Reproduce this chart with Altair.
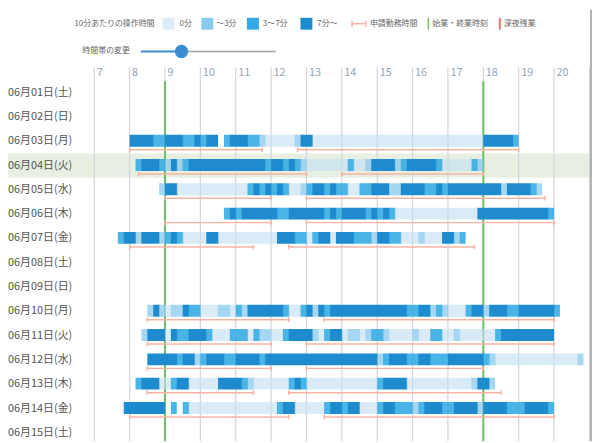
import altair as alt
import pandas as pd

FONT = "Noto Sans CJK JP"

DATES = ["06月01日(土)", "06月02日(日)", "06月03日(月)", "06月04日(火)", "06月05日(水)",
         "06月06日(木)", "06月07日(金)", "06月08日(土)", "06月09日(日)", "06月10日(月)",
         "06月11日(火)", "06月12日(水)", "06月13日(木)", "06月14日(金)", "06月15日(土)"]
HOURS = [7, 8, 9, 10, 11, 12, 13, 14, 15, 16, 17, 18, 19, 20, 21]
HIGHLIGHT_DATE = "06月04日(火)"
WORK_TIMES = [9, 18]

LEVEL_NAMES = ["0分", "～3分", "3～7分", "7分～"]
LEVEL_COLORS = ["#ddecf8", "#88c9ee", "#31a9e2", "#1f8bcf"]
CELL_COLORS = ["#c4dff4", "#88c9ee", "#31a9e2", "#1f8bcf"]
CELL_OPACITY = [0.62, 1.0, 1.0, 1.0]

# 10-minute cells per day: start time and operation level (-1 = no record)
START_0603 = "8:00"
LEVELS_0603 = [3, 3, 3, 3, 2, 2, 3, 3, 3, 2, 2, 3, 2, 3, 3, -1, 2, 3, 3, 3, 2, 2, 1,
               0, 0, 0, 0, 0, 1, 3, 3,
               0, 0, 0, 0, 0, 0, 0, 0, 0, 0, 0, 0, 0, 0, 0, 0, 0, 0, 0, 0, 0, 0, 0, 0, 0, 0, 0, 0, 0,
               3, 3, 3, 3, 3, 2]
START_0604 = "8:10"
LEVELS_0604 = [2, 3, 3, 3, 2, 1, 3, 1, 2, 3, 3, 3, 3, 3, 3, 3, 3, 3, 3, 3, 3, 3, 2, 3, 3, 2, 3, 2, 1,
               0, 0, 0, 0, 0, 0, 0, 2, 0, 0, 1, 3, 3, 3, 3, 1, 2, 3, 3, 3, 3, 3, 2,
               0, 0, 0, 0, 0, 2, 1]
START_0605 = "8:50"
LEVELS_0605 = [1, 3, 3, 0, 0, 0, 0, 0, 0, 0, 0, 0, 0, 0, 0, 2, 3, 2, 3, 2, 3, 2, 0, 0, 1, 2, 3, 3, 2,
               3, 2, 2, 0, 0, 2, 2, 3, 3, 3, 1, 1, 3, 3, 3, 3, 2, 2, 3, 2,
               3, 3, 3, 3, 3, 3, 3, 3, 3, 1, 3, 3, 3, 3, 2, 1]
START_0606 = "10:40"
LEVELS_0606 = [2, 3, 2, 3, 3, 3, 3, 3, 3, 2, 2, 3, 3, 3, 3, 3, 3, 2, 3, 2, 3, 3, 3, 3, 2, 3, 2, 3, 2,
               0, 0, 0, 0, 0, 0, 0, 0, 0, 0, 0, 0, 0, 0,
               3, 3, 3, 3, 3, 3, 3, 3, 3, 3, 3, 3, 2]
START_0607 = "7:40"
LEVELS_0607 = [2, 3, 3, 1, 3, 3, 3, 1, 2, 3, 2, 0, 0, 0, 0, 3, 3, 0, 0, 0, 0, 0, 0, 0, 0, 0, 0,
               3, 3, 3, 2, 2, 0, 2, 3, 3, 0, 3, 3, 3, 2, 2, 2, 1, 3, 3, 2, 2, 0, 0, 0, 1, 0, 0, 0,
               3, 3, 1, 2]
START_0610 = "8:30"
LEVELS_0610 = [1, 3, 1, 0, 1, 1, 3, 2, 2, 0, 0, 0, 1, 1, 0, 2, 1, 3, 3, 3, 3, 3, 3, 2, 0, 0, 2, 3,
               1, 3, 2, 3, 3, 3, 3, 3, 3, 3, 3, 3, 3, 3, 3, 3, 2, 2, 3, 3, 1, 2, 1, 0, 0, 0, 2, 3,
               3, 1, 3, 3, 3, 2, 2, 3, 3, 3, 3, 3, 3, 2]
START_0611 = "8:20"
LEVELS_0611 = [1, 3, 3, 3, 0, 3, 2, 2, 3, 3, 3, 2, 0, 0, 0, 2, 2, 2, 0, 2, 1, 1, 0, 0, 2, 3, 3, 3,
               3, 1, 0, 2, 3, 3, 0, 1, 1, 0, 1, 2, 2, 1, 0, 0, 0, 0, 1, 0, 0, 2, 2, 0, 0, 1,
               0, 0, 0, 0, 0, 0, 2, 3, 3, 3, 3, 3, 3, 3, 3, 3]
START_0612 = "8:30"
LEVELS_0612 = [3, 3, 3, 3, 3, 2, 3, 3, 1, 2, 3, 3, 3, 2, 2, 3, 3, 3, 3, 2,
               3, 3, 3, 3, 3, 3, 3, 3, 3, 3, 3, 3, 3, 3, 3, 3, 3, 3, 3,
               1, 2, 3, 3, 3, 2, 2, 3, 3, 2, 2, 2, 3, 3, 3, 3, 3, 3, 2, 1,
               0, 0, 0, 0, 0, 0, 0, 0, 0, 0, 0, 0, 0, 0, 1]
START_0613 = "8:10"
LEVELS_0613 = [2, 3, 3, 3, 0, 0, 2, 3, 3, 0, 0, 0, 0, 0, 3, 3, 3, 3, 2, 1, 0, 0, 0, 0, 0, 0, 2, 3, 2,
               0, 0, 0, 0, 0, 0, 0, 0, 0, 0, 0, 0, 2, 3, 3, 3, 3,
               0, 0, 0, 0, 0, 0, 0, 0, 0, 0, 0, 1, 3, 3, 1]
START_0614 = "7:50"
LEVELS_0614 = [3, 3, 3, 3, 3, 3, 3, -1, 2, -1, 2, 0, 0, 0, 0, 0, 0, 0, 0, 0, 0, 0, 0, 0, 0, 0,
               2, 3, 3, 0, 0, 0, 0, 0, 2, 3, 3, 2, 3, 3, 0, 0, 0, 2, 3, 3, 2, 2, 2, 1, 2, 3, 3, 3,
               2, 2, 3, 3, 3, 3, 1, 3, 3, 3, 3, 2, 2, 2, 3, 3, 3, 3, 2]

CELLS = {
    "06月03日(月)": (START_0603, LEVELS_0603),
    "06月04日(火)": (START_0604, LEVELS_0604),
    "06月05日(水)": (START_0605, LEVELS_0605),
    "06月06日(木)": (START_0606, LEVELS_0606),
    "06月07日(金)": (START_0607, LEVELS_0607),
    "06月10日(月)": (START_0610, LEVELS_0610),
    "06月11日(火)": (START_0611, LEVELS_0611),
    "06月12日(水)": (START_0612, LEVELS_0612),
    "06月13日(木)": (START_0613, LEVELS_0613),
    "06月14日(金)": (START_0614, LEVELS_0614),
}

# requested working time (申請勤務時間): two spans per day
REQ_DATES = ["06月03日(月)", "06月04日(火)", "06月05日(水)", "06月06日(木)", "06月07日(金)",
             "06月10日(月)", "06月11日(火)", "06月12日(水)", "06月13日(木)", "06月14日(金)"]
REQ_AM = [("8:00", "11:45"), ("8:15", "13:00"), ("9:00", "12:00"), ("9:00", "12:00"), ("8:00", "11:30"),
          ("8:30", "12:30"), ("8:30", "12:00"), ("8:30", "12:00"), ("8:30", "11:30"), ("8:00", "12:30")]
REQ_PM = [("12:45", "19:00"), ("14:00", "18:00"), ("13:00", "19:45"), ("13:00", "20:00"), ("12:30", "17:45"),
          ("13:30", "20:00"), ("13:00", "20:00"), ("13:00", "18:00"), ("12:30", "18:30"), ("13:30", "20:00")]


def hrs(s):
    h, m = s.split(":")
    return int(h) + int(m) / 60.0


# ---------------- layout constants (pixels) ----------------
W, H = 502, 363          # plot area
PX_PER_HOUR = 35.67
ROW_PX = 24.5
ROW0_PX = 11.6           # center of first row from plot top
X_SCALE = alt.Scale(domain=[7, 7 + W / PX_PER_HOUR], nice=False, zero=False)
Y_SCALE = alt.Scale(domain=[-ROW0_PX / ROW_PX, (H - ROW0_PX) / ROW_PX], nice=False, zero=False, reverse=True)
OVERLAP = 0.6 / PX_PER_HOUR   # hides anti-alias seams between neighbouring runs


def r(px):
    return px / ROW_PX


row_index = {d: i for i, d in enumerate(DATES)}

# cell table: consecutive 10-minute cells of equal level merged into runs
cell_rows = []
for d, (st, levels) in CELLS.items():
    s = hrs(st)
    i = row_index[d]
    k = 0
    while k < len(levels):
        lv = levels[k]
        j = k
        while j + 1 < len(levels) and levels[j + 1] == lv:
            j += 1
        if lv >= 0:
            nxt = levels[j + 1] if j + 1 < len(levels) else -1
            ext = OVERLAP if nxt >= 0 else 0.0
            cell_rows.append({"date": d, "t0": s + k / 6.0, "t1": s + (j + 1) / 6.0 + ext,
                              "y0": i - r(6.6), "y1": i + r(5.4), "level": lv})
        k = j + 1
cells_df = pd.DataFrame(cell_rows)

req_rows, tick_rows = [], []
for d, am, pm in zip(REQ_DATES, REQ_AM, REQ_PM):
    i = row_index[d]
    for a, b in (am, pm):
        req_rows.append({"t0": hrs(a), "t1": hrs(b), "y": i + r(8.5)})
        for t in (hrs(a), hrs(b)):
            tick_rows.append({"t": t, "ya": i + r(6.2), "yb": i + r(10.8)})
req_df = pd.DataFrame(req_rows)
tick_df = pd.DataFrame(tick_rows)

labels_df = pd.DataFrame({"date": DATES, "row": list(range(len(DATES)))})
hi = row_index[HIGHLIGHT_DATE]
hi_df = pd.DataFrame({"ya": [hi - r(12.2)], "yb": [hi + r(12.2)]})
hours_df = pd.DataFrame({"h": HOURS, "lab": [str(h) for h in HOURS]})
work_df = pd.DataFrame({"h": WORK_TIMES})
ONE = pd.DataFrame({"a": [0]})

SALMON = "#f6b3a3"
GREEN = "#6abf69"
RED = "#e8746c"
TXT = "#555555"

highlight = alt.Chart(hi_df).mark_rect(color="#e6efe2").encode(
    x=alt.value(-87), x2=alt.value(W),
    y=alt.Y("ya:Q", scale=Y_SCALE, axis=None), y2="yb:Q")

grid = alt.Chart(hours_df).mark_rule(color="#d0d6db", strokeWidth=1.2).encode(
    x=alt.X("h:Q", scale=X_SCALE, axis=None), y=alt.value(-14), y2=alt.value(H))

hour_labels = alt.Chart(hours_df).mark_text(
    align="left", baseline="middle", dx=2.5, fontSize=11, font=FONT, color="#93a6b5").encode(
    x=alt.X("h:Q", scale=X_SCALE, axis=None), y=alt.value(-8), text="lab:N")

work = alt.Chart(work_df).mark_rule(color=GREEN, strokeWidth=2).encode(
    x=alt.X("h:Q", scale=X_SCALE, axis=None), y=alt.value(0), y2=alt.value(H))

cells = alt.Chart(cells_df).mark_rect(clip=True).encode(
    x=alt.X("t0:Q", scale=X_SCALE, axis=None), x2="t1:Q",
    y=alt.Y("y0:Q", scale=Y_SCALE, axis=None), y2="y1:Q",
    color=alt.Color("level:O", scale=alt.Scale(domain=[0, 1, 2, 3], range=CELL_COLORS), legend=None),
    opacity=alt.Opacity("level:O", scale=alt.Scale(domain=[0, 1, 2, 3], range=CELL_OPACITY), legend=None))

req = alt.Chart(req_df).mark_rule(color=SALMON, strokeWidth=1.5).encode(
    x=alt.X("t0:Q", scale=X_SCALE, axis=None), x2="t1:Q",
    y=alt.Y("y:Q", scale=Y_SCALE, axis=None))

req_ticks = alt.Chart(tick_df).mark_rule(color=SALMON, strokeWidth=1.5).encode(
    x=alt.X("t:Q", scale=X_SCALE, axis=None),
    y=alt.Y("ya:Q", scale=Y_SCALE, axis=None), y2="yb:Q")

row_labels = alt.Chart(labels_df).mark_text(
    align="left", baseline="middle", fontSize=11, font=FONT, color=TXT).encode(
    x=alt.value(-87), y=alt.Y("row:Q", scale=Y_SCALE, axis=None), text="date:N")


def text_at(s, x, y, size=8, color="#666666"):
    return alt.Chart(ONE).mark_text(text=s, align="left", baseline="middle",
                                    fontSize=size, font=FONT, color=color).encode(
        x=alt.value(x), y=alt.value(y))


def rect_at(x0, x1, y0, y1, color):
    return alt.Chart(ONE).mark_rect(color=color).encode(
        x=alt.value(x0), x2=alt.value(x1), y=alt.value(y0), y2=alt.value(y1))


def line_at(x0, x1, y0, y1, color, w=1.5):
    return alt.Chart(ONE).mark_rule(color=color, strokeWidth=w).encode(
        x=alt.value(x0), x2=alt.value(x1), y=alt.value(y0), y2=alt.value(y1))


LY = -58
legend_layers = [text_at("10分あたりの操作時間", -20, LY)]
sw_x = [69, 108, 154, 208]
lab_x = [86, 123, 170, 225]
for c, name, sx, lx in zip(LEVEL_COLORS, LEVEL_NAMES, sw_x, lab_x):
    legend_layers.append(rect_at(sx, sx + 12, LY - 6, LY + 6, c))
    legend_layers.append(text_at(name, lx, LY))
legend_layers += [
    line_at(260, 274, LY, LY, SALMON),
    line_at(260, 260, LY - 3, LY + 3, SALMON),
    line_at(274, 274, LY - 3, LY + 3, SALMON),
    text_at("申請勤務時間", 278, LY),
    line_at(337, 337, LY - 6, LY + 6, GREEN),
    text_at("始業・終業時刻", 341, LY),
    line_at(409, 409, LY - 6, LY + 6, RED, 2),
    text_at("深夜残業", 413, LY),
]

SY = -30
slider_layers = [
    text_at("時間帯の変更", -12, SY),
    line_at(88, 183, SY, SY, "#a0a0a0", 1.5),
    line_at(47, 88, SY, SY, "#3a8bd0", 2),
    alt.Chart(ONE).mark_circle(size=180, opacity=1, color="#3a8bd0").encode(
        x=alt.value(88), y=alt.value(SY)),
]

frame = [line_at(W - 1, W - 1, -72, H, "#9a9a9a", 1.5)]

chart = alt.layer(
    highlight, grid, hour_labels, work, cells, req, req_ticks, row_labels,
    *legend_layers, *slider_layers, *frame
).properties(
    width=W, height=H,
    padding={"left": 87, "top": 72, "right": 0, "bottom": 0},
    autosize=alt.AutoSizeParams(type="none"),
).configure_view(stroke=None)

chart.save("out.html", embed_options={"renderer": "svg", "actions": False})
